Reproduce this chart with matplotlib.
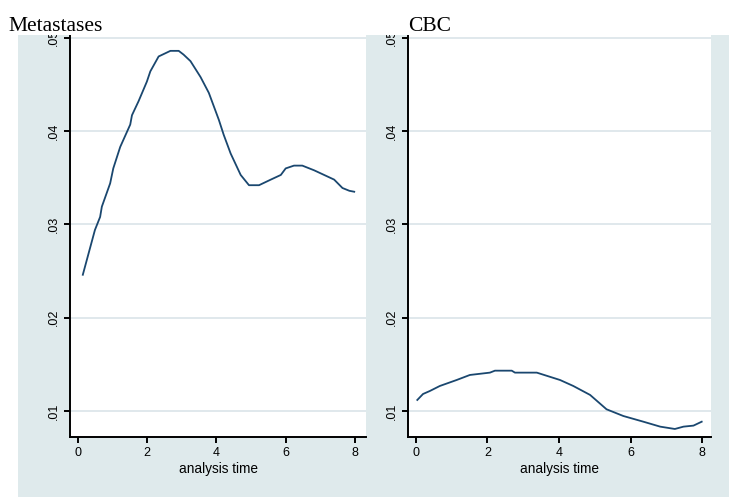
import numpy as np
import matplotlib.pyplot as plt
from matplotlib.patches import Rectangle

# smoothed hazard estimates by analysis time
met_time = [0.14, 0.49, 0.64, 0.69, 0.93, 1.02, 1.22, 1.51, 1.56, 1.75, 1.99, 2.09,
            2.33, 2.67, 2.91, 3.05, 3.25, 3.54, 3.78, 4.07, 4.21, 4.41, 4.70, 4.94,
            5.23, 5.57, 5.86, 6.00, 6.24, 6.48, 6.82, 7.11, 7.40, 7.64, 7.84, 7.98]
met_haz = [.0246, .0294, .0308, .0319, .0344, .0360, .0383, .0407, .0417, .0432, .0453, .0464,
           .0480, .0486, .0486, .0482, .0475, .0458, .0441, .0412, .0396, .0376, .0353, .0342,
           .0342, .0348, .0353, .0360, .0363, .0363, .0358, .0353, .0348, .0339, .0336, .0335]

cbc_time = [0.04, 0.20, 0.39, 0.67, 1.14, 1.51, 2.07, 2.21, 2.68, 2.77, 3.38, 4.03,
            4.40, 4.87, 5.33, 5.80, 6.36, 6.83, 7.24, 7.48, 7.76, 7.99]
cbc_haz = [.01118, .01182, .01214, .01268, .01332, .01386, .01411, .01432, .01432, .01411, .01411, .01332,
           .01268, .01172, .01018, .00946, .00885, .00832, .00807, .00832, .00843, .00885]

y_ticks = [.01, .02, .03, .04, .05]
y_labels = ['.01', '.02', '.03', '.04', '.05']
x_ticks = [0, 2, 4, 6, 8]

W, H = 729, 497
navy = '#1a476f'
bg = '#dfeaec'
grid = '#dde6ea'
tickfont = 'Liberation Sans'


def panel(rect, t, h, xlim, title, title_x):
    l, r, top, bot = rect
    ax = fig.add_axes([l / W, 1 - bot / H, (r - l) / W, (bot - top) / H])
    ax.set_facecolor('white')
    ax.plot(t, h, color=navy, lw=1.3, zorder=3)
    ax.set_xlim(*xlim)
    ax.set_ylim(0.00721, 0.0503)
    ax.set_yticks(y_ticks, y_labels, rotation=90, va='center')
    ax.set_xticks(x_ticks)
    for s in ['top', 'right']:
        ax.spines[s].set_visible(False)
    for s in ['left', 'bottom']:
        ax.spines[s].set_linewidth(1.4)
    ax.tick_params(direction='out', length=4, width=1.4, labelsize=9, pad=3)
    for lbl in ax.get_xticklabels() + ax.get_yticklabels():
        lbl.set_family(tickfont)
    ax.grid(axis='y', color=grid, lw=1.3)
    ax.set_axisbelow(True)
    ax.set_xlabel('analysis time', fontsize=9.8, family=tickfont, labelpad=2)
    fig.text(title_x / W, 1 - 30.7 / H, title, family='Liberation Serif',
             fontsize=15.5, va='baseline', ha='left', zorder=6)
    return ax


fig = plt.figure(figsize=(W / 100, H / 100), dpi=100)
fig.patch.set_facecolor('white')
fig.patches.append(Rectangle((18 / W, 0), 1 - 18 / W, 1 - 35 / H, transform=fig.transFigure,
                             facecolor=bg, edgecolor='none', zorder=-1))
# white band holding the titles, laid over the tops of the panels
fig.patches.append(Rectangle((0, 1 - 35 / H), 1, 35 / H, transform=fig.transFigure,
                             facecolor='white', edgecolor='none', zorder=5))

panel((70, 366, 35, 437), met_time, met_haz, (-0.23, 8.32), 'Metastases', 8)
panel((408, 711, 35, 437), cbc_time, cbc_haz, (-0.22, 8.25), 'CBC', 408)

fig.savefig('out.png', dpi=100)
